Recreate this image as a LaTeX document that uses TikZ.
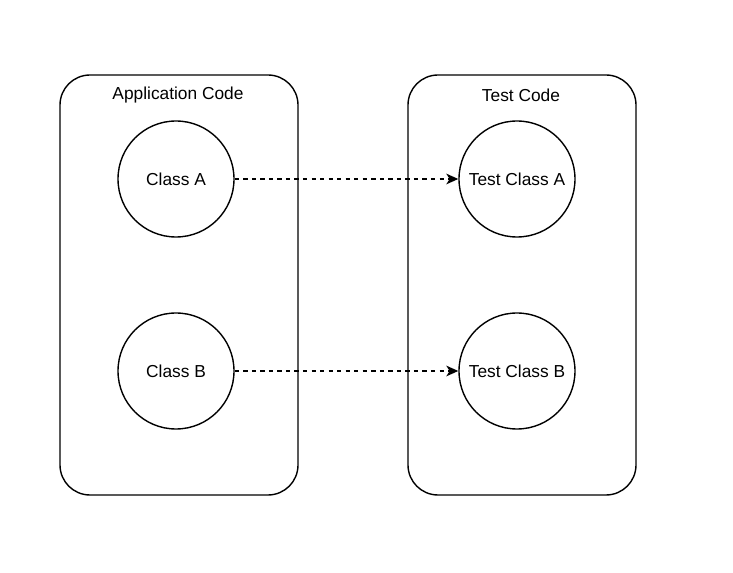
\documentclass[tikz,border=0pt]{standalone}
\usepackage{fontspec}
\setmainfont{Liberation Sans}
\usetikzlibrary{arrows.meta}
\begin{document}
\begin{tikzpicture}[x=0.75pt,y=-0.75pt,
  group/.style={draw,line width=1.05pt,rounded corners=22.5pt},
  cls/.style={draw,circle,line width=1.05pt,minimum size=87pt,inner sep=0pt,font=\fontsize{13pt}{15pt}\selectfont},
  lbl/.style={font=\fontsize{13pt}{15pt}\selectfont,inner sep=0pt},
  dep/.style={line width=1.05pt,dash pattern=on 3.2pt off 3.2pt,-{Stealth[length=9pt,width=8pt,inset=2.5pt]}}]
\useasboundingbox (0,0) rectangle (733,573);
\draw[group] (60,75) rectangle (298,495);
\draw[group] (408,75) rectangle (636,495);
\node[lbl] (applbl) at (178,95) {Application Code};
\node[lbl] (testlbl) at (521,95) {Test Code};
\node[cls] (ca) at (176,179) {Class A};
\node[cls] (cb) at (176,371) {Class B};
\node[cls] (ta) at (517,179) {Test Class A};
\node[cls] (tb) at (517,371) {Test Class B};
\draw[dep] (ca) -- (ta);
\draw[dep] (cb) -- (tb);
\end{tikzpicture}
\end{document}
